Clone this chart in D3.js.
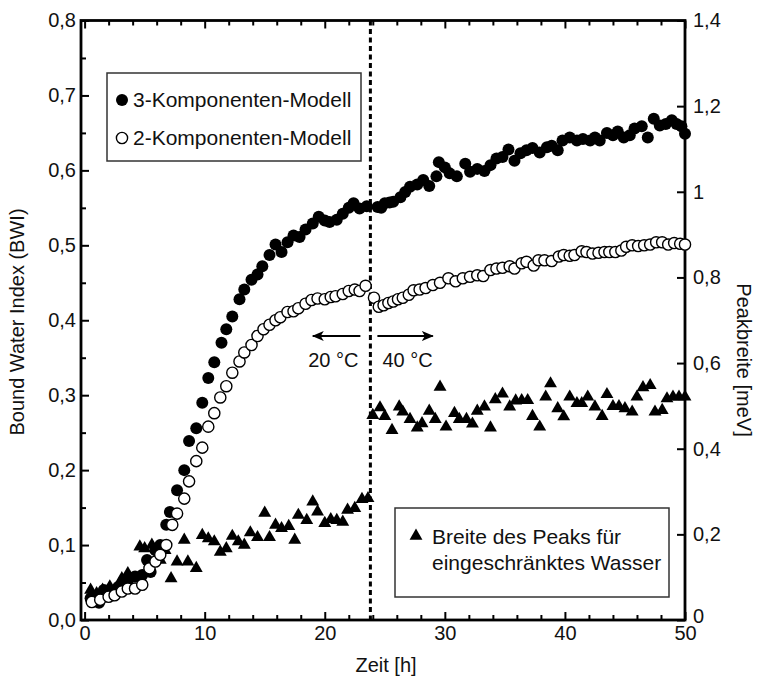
<!DOCTYPE html>
<html>
<head>
<meta charset="utf-8">
<script src="https://cdn.jsdelivr.net/npm/d3@7"></script>
<style>
  body { margin: 0; background: #fff; }
  svg { display: block; font-family: "Liberation Sans", Arial, Helvetica, sans-serif; }
  .tick text { font-size: 20px; fill: #111; }
  .label { font-size: 20px; fill: #111; }
</style>
</head>
<body>
<svg id="chart" width="758" height="681"></svg>
<script>

// 3-Komponenten-Modell (filled circles), time [h] and BWI
var t3 = [0.5, 0.9, 1.2, 1.6, 2.0, 2.4, 2.8, 3.2, 3.6, 4.2, 4.8, 5.2, 5.5, 5.9, 6.3, 6.8, 7.1, 7.7, 8.3, 8.7,
  9.3, 9.8, 10.3, 10.8, 11.4, 11.8, 12.3, 12.9, 13.3, 13.9, 14.4, 14.8, 15.4, 15.9, 16.4, 16.9, 17.4, 17.9, 18.4, 19.0,
  19.5, 20.0, 20.4, 21.0, 21.5, 22.0, 22.4, 22.9, 23.5, 24.4, 24.7, 25.0, 25.4, 25.7, 26.3, 26.7, 27.1, 27.7, 28.2, 28.7,
  29.3, 29.5, 30.0, 30.4, 31.0, 31.7, 32.1, 32.7, 33.3, 33.8, 34.3, 34.8, 35.3, 35.8, 36.3, 36.8, 37.3, 37.9, 38.5, 38.9,
  39.4, 39.8, 40.4, 41.0, 41.5, 42.1, 42.5, 42.9, 43.5, 44.0, 44.4, 44.9, 45.4, 45.8, 46.4, 46.9, 47.4, 47.9, 48.4, 48.9,
  49.3, 49.7, 50.0];
var bwi3 = [0.029, 0.025, 0.023, 0.040, 0.038, 0.033, 0.044, 0.051, 0.053, 0.058, 0.060, 0.080, 0.064, 0.093, 0.100, 0.127, 0.144, 0.173, 0.200, 0.239,
  0.256, 0.290, 0.323, 0.344, 0.370, 0.388, 0.405, 0.428, 0.441, 0.454, 0.461, 0.472, 0.487, 0.501, 0.491, 0.504, 0.513, 0.511, 0.521, 0.529,
  0.538, 0.533, 0.531, 0.534, 0.542, 0.550, 0.556, 0.549, 0.552, 0.551, 0.550, 0.556, 0.557, 0.558, 0.564, 0.571, 0.578, 0.581, 0.587, 0.579,
  0.592, 0.611, 0.604, 0.596, 0.592, 0.609, 0.598, 0.602, 0.599, 0.607, 0.616, 0.618, 0.628, 0.613, 0.623, 0.627, 0.630, 0.624, 0.631, 0.633,
  0.627, 0.640, 0.644, 0.640, 0.642, 0.640, 0.644, 0.640, 0.650, 0.647, 0.652, 0.644, 0.647, 0.656, 0.659, 0.644, 0.669, 0.660, 0.662, 0.667,
  0.662, 0.659, 0.649];

// 2-Komponenten-Modell (open circles)
var t2 = [0.6, 1.3, 2.0, 2.5, 3.1, 3.6, 4.2, 4.8, 5.4, 5.9, 6.3, 6.8, 7.3, 7.7, 8.3, 8.7, 9.3, 9.8, 10.3, 10.8,
  11.3, 11.8, 12.3, 12.9, 13.3, 13.9, 14.4, 14.9, 15.4, 15.9, 16.3, 16.9, 17.4, 17.8, 18.4, 18.9, 19.4, 20.0, 20.5, 20.9,
  21.5, 22.0, 22.5, 22.9, 23.4, 24.1, 24.5, 24.9, 25.3, 25.7, 26.1, 26.5, 27.0, 27.4, 27.9, 28.4, 29.0, 29.6, 30.3, 30.9,
  31.5, 32.1, 32.7, 33.2, 33.8, 34.3, 34.8, 35.4, 35.8, 36.4, 36.8, 37.4, 37.8, 38.3, 38.9, 39.5, 39.9, 40.4, 40.8, 41.4,
  41.8, 42.3, 42.8, 43.3, 43.7, 44.2, 44.7, 45.1, 45.6, 46.1, 46.6, 47.1, 47.6, 48.1, 48.6, 49.1, 49.6, 50.0];
var bwi2 = [0.024, 0.027, 0.031, 0.033, 0.038, 0.042, 0.042, 0.047, 0.069, 0.078, 0.087, 0.100, 0.127, 0.142, 0.162, 0.185, 0.212, 0.230, 0.258, 0.276,
  0.297, 0.312, 0.330, 0.345, 0.357, 0.367, 0.379, 0.388, 0.394, 0.400, 0.404, 0.411, 0.412, 0.416, 0.422, 0.427, 0.429, 0.428, 0.431, 0.432,
  0.435, 0.439, 0.441, 0.439, 0.446, 0.430, 0.418, 0.420, 0.423, 0.425, 0.428, 0.430, 0.434, 0.440, 0.441, 0.443, 0.447, 0.450, 0.456, 0.452,
  0.456, 0.458, 0.460, 0.459, 0.467, 0.469, 0.470, 0.472, 0.469, 0.476, 0.478, 0.473, 0.480, 0.480, 0.479, 0.485, 0.487, 0.486, 0.487, 0.492,
  0.491, 0.489, 0.490, 0.491, 0.491, 0.491, 0.493, 0.498, 0.500, 0.499, 0.500, 0.501, 0.504, 0.504, 0.501, 0.503, 0.502, 0.501];

// Breite des Peaks (triangles), right axis [meV]
var tPeak = [0.5, 1.0, 1.5, 2.1, 2.6, 3.1, 3.6, 4.6, 5.0, 5.6, 6.3, 6.7, 7.2, 7.7, 8.3, 8.6, 9.3, 9.8, 10.3, 10.8,
  11.3, 11.8, 12.3, 12.8, 13.3, 13.8, 14.4, 15.0, 15.4, 15.9, 16.4, 17.0, 17.5, 17.8, 18.5, 19.0, 19.4, 20.0, 20.5, 21.0,
  21.5, 21.9, 22.5, 23.1, 23.6, 24.0, 24.6, 25.0, 25.6, 26.2, 26.5, 27.1, 27.7, 28.1, 28.7, 29.2, 29.6, 30.1, 30.8, 31.2,
  31.8, 32.3, 32.7, 33.3, 33.8, 34.2, 34.8, 35.4, 35.9, 36.4, 36.9, 37.3, 37.9, 38.4, 38.8, 39.4, 39.9, 40.4, 41.0, 41.4,
  41.9, 42.5, 43.1, 43.5, 44.0, 44.5, 45.0, 45.6, 46.0, 46.5, 47.1, 47.5, 48.1, 48.5, 49.0, 49.5, 50.0];
var peak = [0.070, 0.062, 0.070, 0.078, 0.070, 0.097, 0.109, 0.171, 0.167, 0.175, 0.140, 0.163, 0.097, 0.136, 0.187, 0.136, 0.121, 0.198, 0.190, 0.183,
  0.159, 0.167, 0.196, 0.183, 0.175, 0.204, 0.193, 0.250, 0.193, 0.222, 0.214, 0.219, 0.187, 0.245, 0.233, 0.276, 0.253, 0.226, 0.235, 0.233,
  0.229, 0.257, 0.261, 0.282, 0.284, 0.478, 0.496, 0.476, 0.443, 0.498, 0.486, 0.469, 0.449, 0.459, 0.488, 0.469, 0.544, 0.451, 0.483, 0.469,
  0.469, 0.458, 0.488, 0.498, 0.449, 0.515, 0.528, 0.498, 0.512, 0.513, 0.513, 0.476, 0.451, 0.521, 0.552, 0.494, 0.475, 0.521, 0.506, 0.506,
  0.521, 0.498, 0.476, 0.527, 0.499, 0.499, 0.494, 0.486, 0.521, 0.543, 0.548, 0.486, 0.490, 0.517, 0.521, 0.521, 0.521];

var xMajor = [0, 10, 20, 30, 40, 50];
var xMinor = [2, 4, 6, 8, 12, 14, 16, 18, 22, 24, 26, 28, 32, 34, 36, 38, 42, 44, 46, 48];
var leftMajor = [0, 0.1, 0.2, 0.3, 0.4, 0.5, 0.6, 0.7, 0.8];
var leftMinor = [0.05, 0.15, 0.25, 0.35, 0.45, 0.55, 0.65, 0.75];
var rightMajor = [0, 0.2, 0.4, 0.6, 0.8, 1.0, 1.2, 1.4];
var switchTime = 23.8;

var svg = d3.select('#chart');
var plot = {l: 81, r: 685, t: 20.5, b: 620};

var x = d3.scaleLinear().domain([-0.3, 50]).range([plot.l, plot.r]);
var yL = d3.scaleLinear().domain([0, 0.8]).range([plot.b, plot.t]);
var yR = d3.scaleLinear().domain([0, 1.4]).range([plot.b, plot.t]);

var comma = function(f) { return function(d) { return f(d).replace('.', ','); }; };

// axes, ticks pointing inwards
svg.append('g').attr('transform', 'translate(0,' + plot.b + ')')
  .call(d3.axisBottom(x).tickValues(xMajor).tickSize(-8).tickPadding(6).tickFormat(d3.format('d')));
svg.append('g').attr('transform', 'translate(0,' + plot.b + ')')
  .call(d3.axisBottom(x).tickValues(xMinor).tickSize(-5).tickFormat(''));
svg.append('g').attr('transform', 'translate(0,' + plot.t + ')')
  .call(d3.axisTop(x).tickValues(xMajor).tickSize(-8).tickFormat(''));
svg.append('g').attr('transform', 'translate(0,' + plot.t + ')')
  .call(d3.axisTop(x).tickValues(xMinor).tickSize(-5).tickFormat(''));
svg.append('g').attr('transform', 'translate(' + plot.l + ',0)')
  .call(d3.axisLeft(yL).tickValues(leftMajor).tickSize(-8).tickPadding(5).tickFormat(comma(d3.format('.1f'))));
svg.append('g').attr('transform', 'translate(' + plot.l + ',0)')
  .call(d3.axisLeft(yL).tickValues(leftMinor).tickSize(-5).tickFormat(''));
var rightAxis = svg.append('g').attr('transform', 'translate(' + plot.r + ',0)')
  .call(d3.axisRight(yR).tickValues(rightMajor).tickSize(-8).tickPadding(8).tickFormat(comma(d3.format('~g'))));
// lift the "0" a little so it clears the "50" below
rightAxis.selectAll('.tick text').filter(function(d) { return d === 0; }).attr('dy', '0.1em');

svg.selectAll('.domain').remove();
svg.selectAll('.tick line').attr('stroke', '#000').attr('stroke-width', 2);

svg.append('rect')
  .attr('x', plot.l).attr('y', plot.t)
  .attr('width', plot.r - plot.l).attr('height', plot.b - plot.t)
  .attr('fill', 'none').attr('stroke', '#000').attr('stroke-width', 2.8);

// axis titles
svg.append('text').attr('class', 'label')
  .attr('x', (plot.l + plot.r) / 2 + 3).attr('y', 672)
  .attr('text-anchor', 'middle').text('Zeit [h]');
svg.append('text').attr('class', 'label')
  .attr('transform', 'translate(24,' + 322 + ') rotate(-90)')
  .attr('text-anchor', 'middle').text('Bound Water Index (BWI)');
svg.append('text').attr('class', 'label')
  .attr('transform', 'translate(737,' + 360 + ') rotate(90)')
  .attr('text-anchor', 'middle').text('Peakbreite [meV]');

// temperature switch
svg.append('line')
  .attr('x1', x(switchTime)).attr('x2', x(switchTime))
  .attr('y1', plot.t).attr('y2', plot.b)
  .attr('stroke', '#000').attr('stroke-width', 3).attr('stroke-dasharray', '5,3.5');

svg.append('defs').append('marker')
  .attr('id', 'head').attr('viewBox', '0 0 12 10')
  .attr('refX', 11).attr('refY', 5)
  .attr('markerWidth', 12).attr('markerHeight', 10)
  .attr('markerUnits', 'userSpaceOnUse').attr('orient', 'auto')
  .append('path').attr('d', 'M0,0 L12,5 L0,10 L3,5 Z').attr('fill', '#000');

svg.append('line')
  .attr('x1', x(switchTime) - 10).attr('x2', x(19.0))
  .attr('y1', 336).attr('y2', 336)
  .attr('stroke', '#000').attr('stroke-width', 2).attr('marker-end', 'url(#head)');
svg.append('line')
  .attr('x1', x(switchTime) + 7).attr('x2', x(29.0))
  .attr('y1', 336).attr('y2', 336)
  .attr('stroke', '#000').attr('stroke-width', 2).attr('marker-end', 'url(#head)');
svg.append('text').attr('class', 'label').attr('x', x(switchTime) - 12).attr('y', 367)
  .attr('text-anchor', 'end').text('20 °C');
svg.append('text').attr('class', 'label').attr('x', x(switchTime) + 12).attr('y', 367)
  .text('40 °C');

// data marks
var tri = d3.symbol().type(d3.symbolTriangle).size(72);

svg.append('g').selectAll('path')
  .data(tPeak.map(function(t, i) { return {t: t, v: peak[i]}; }))
  .enter().append('path')
  .attr('d', tri)
  .attr('transform', function(d) { return 'translate(' + x(d.t) + ',' + yR(d.v) + ')'; })
  .attr('fill', '#000');

svg.append('g').selectAll('circle')
  .data(t3.map(function(t, i) { return {t: t, v: bwi3[i]}; }))
  .enter().append('circle')
  .attr('cx', function(d) { return x(d.t); })
  .attr('cy', function(d) { return yL(d.v); })
  .attr('r', 6)
  .attr('fill', '#000');

svg.append('g').selectAll('circle')
  .data(t2.map(function(t, i) { return {t: t, v: bwi2[i]}; }))
  .enter().append('circle')
  .attr('cx', function(d) { return x(d.t); })
  .attr('cy', function(d) { return yL(d.v); })
  .attr('r', 5.6)
  .attr('fill', '#fff').attr('stroke', '#000').attr('stroke-width', 1.4);

// legends
var leg1 = svg.append('g');
leg1.append('rect').attr('x', 107).attr('y', 73).attr('width', 254).attr('height', 88)
  .attr('fill', '#fff').attr('stroke', '#333').attr('stroke-width', 1.5);
leg1.append('circle').attr('cx', 122).attr('cy', 100).attr('r', 6).attr('fill', '#000');
leg1.append('text').attr('class', 'label').attr('x', 133).attr('y', 107).style('font-size', '21px')
  .text('3-Komponenten-Modell');
leg1.append('circle').attr('cx', 122).attr('cy', 138).attr('r', 5.6)
  .attr('fill', '#fff').attr('stroke', '#000').attr('stroke-width', 1.4);
leg1.append('text').attr('class', 'label').attr('x', 133).attr('y', 145).style('font-size', '21px')
  .text('2-Komponenten-Modell');

var leg2 = svg.append('g');
leg2.append('rect').attr('x', 395).attr('y', 508).attr('width', 274).attr('height', 89)
  .attr('fill', '#fff').attr('stroke', '#333').attr('stroke-width', 1.5);
leg2.append('path').attr('d', tri).attr('transform', 'translate(416,536)').attr('fill', '#000');
leg2.append('text').attr('class', 'label').attr('x', 432).attr('y', 544).style('font-size', '21px')
  .text('Breite des Peaks für');
leg2.append('text').attr('class', 'label').attr('x', 432).attr('y', 570).style('font-size', '21px')
  .text('eingeschränktes Wasser');

</script>
</body>
</html>
